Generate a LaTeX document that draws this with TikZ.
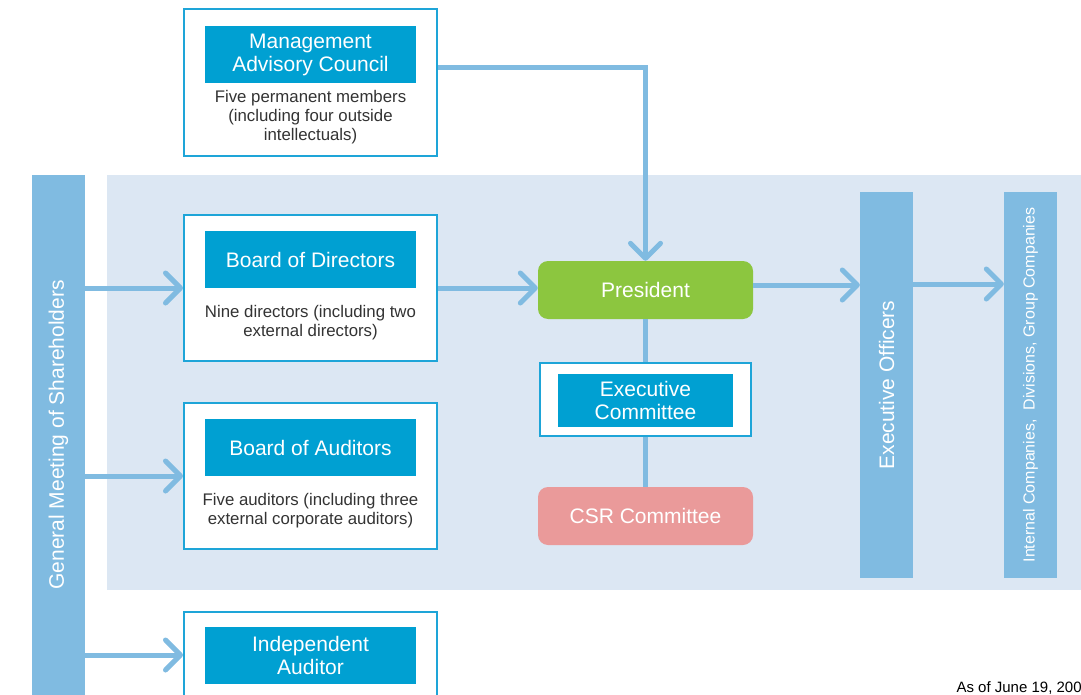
\documentclass[tikz,border=0pt]{standalone}
\usepackage{fontspec}
\setmainfont{Liberation Sans}
\usetikzlibrary{arrows.meta,positioning}
\definecolor{panel}{HTML}{DCE7F3}
\definecolor{bar}{HTML}{80BBE1}
\definecolor{titlebox}{HTML}{00A0D2}
\definecolor{frame}{HTML}{1EA5D8}
\definecolor{pres}{HTML}{8CC63F}
\definecolor{csr}{HTML}{EA9A9A}
\definecolor{note}{HTML}{333333}
\begin{document}
\begin{tikzpicture}[x=1pt,y=-1pt,
  outer/.style={draw=frame,line width=2pt,fill=white,minimum width=253pt,inner sep=0pt},
  title/.style={fill=titlebox,text=white,minimum width=211pt,minimum height=57pt,inner sep=0pt,align=center,font=\fontsize{21}{23}\selectfont},
  sub/.style={text=note,align=center,font=\fontsize{16.8}{19}\selectfont},
  sidebar/.style={fill=bar,text=white,minimum width=53pt,inner sep=0pt},
  roundbox/.style={rounded corners=10pt,text=white,minimum width=215pt,minimum height=58pt,font=\fontsize{21}{23}\selectfont},
  link/.style={draw=bar,line width=5pt},
  arrow/.style={link,-{Straight Barb[length=15pt,width=30pt,round]}}]
\useasboundingbox (0,0) rectangle (1081,695);
\fill[panel] (107,175) rectangle (1081,590);

\node [sidebar,minimum height=520pt,font=\fontsize{21}{23}\selectfont] (gms) at (58.5,435) {\rotatebox{90}{General Meeting of Shareholders}};

\node [outer,minimum height=147pt] (mac) at (310.5,82.5) {};
\node [title] (mactitle) at (310.5,54.5) {Management\\Advisory Council};
\node [sub] (macnote) at (310.5,117) {Five permanent members\\(including four outside\\intellectuals)};

\node [outer,minimum height=146pt] (bod) at (310.5,288) {};
\node [title] (bodtitle) at (310.5,259.5) {Board of Directors};
\node [sub] (bodnote) at (310.5,322.5) {Nine directors (including two\\external directors)};

\node [outer,minimum height=146pt] (boa) at (310.5,476) {};
\node [title] (boatitle) at (310.5,447.5) {Board of Auditors};
\node [sub] (boanote) at (310.5,510.5) {Five auditors (including three\\external corporate auditors)};

\node [outer,minimum height=146pt] (ia) at (310.5,685) {};
\node [title] (iatitle) at (310.5,655) {Independent\\Auditor};

\node [roundbox,fill=pres] (president) at (645.5,290) {President};
\node [draw=frame,line width=2pt,fill=white,minimum width=211pt,minimum height=73pt] (exec) at (645.5,399) {};
\node [title,minimum width=175pt,minimum height=53pt] (exectitle) at (645.5,400) {Executive\\Committee};
\node [roundbox,fill=csr] (csr) at (645.5,516) {CSR Committee};

\node [sidebar,minimum height=386pt,font=\fontsize{21}{23}\selectfont] (eo) at (886.5,385) {\rotatebox{90}{Executive Officers}};
\node [sidebar,minimum height=386pt,font=\fontsize{16}{18}\selectfont] (ic) at (1030.5,385) {\rotatebox{90}{Internal Companies,\ \ Divisions,\ Group Companies}};

\node [anchor=base west,text=black,font=\fontsize{15}{17}\selectfont] (date) at (953,692) {As of June 19, 200};

\draw [arrow] (gms.east |- bod.west) -- (bod.west);
\draw [arrow] (gms.east |- boa.west) -- (boa.west);
\draw [arrow] (gms.east |- iatitle) -- (iatitle -| ia.west);
\draw [arrow] (bod.east) -- (bod.east -| president.west);
\draw [arrow] ([yshift=15pt]mac.east) -| (president.north);
\draw [arrow] ([yshift=5pt]president.east) -- ([yshift=5pt]president.east -| eo.west);
\draw [arrow] ([yshift=6pt]president.east -| eo.east) -- ([yshift=6pt]president.east -| ic.west);
\draw [link] (president.south) -- (exec.north);
\draw [link] (exec.south) -- (csr.north);
\end{tikzpicture}
\end{document}
